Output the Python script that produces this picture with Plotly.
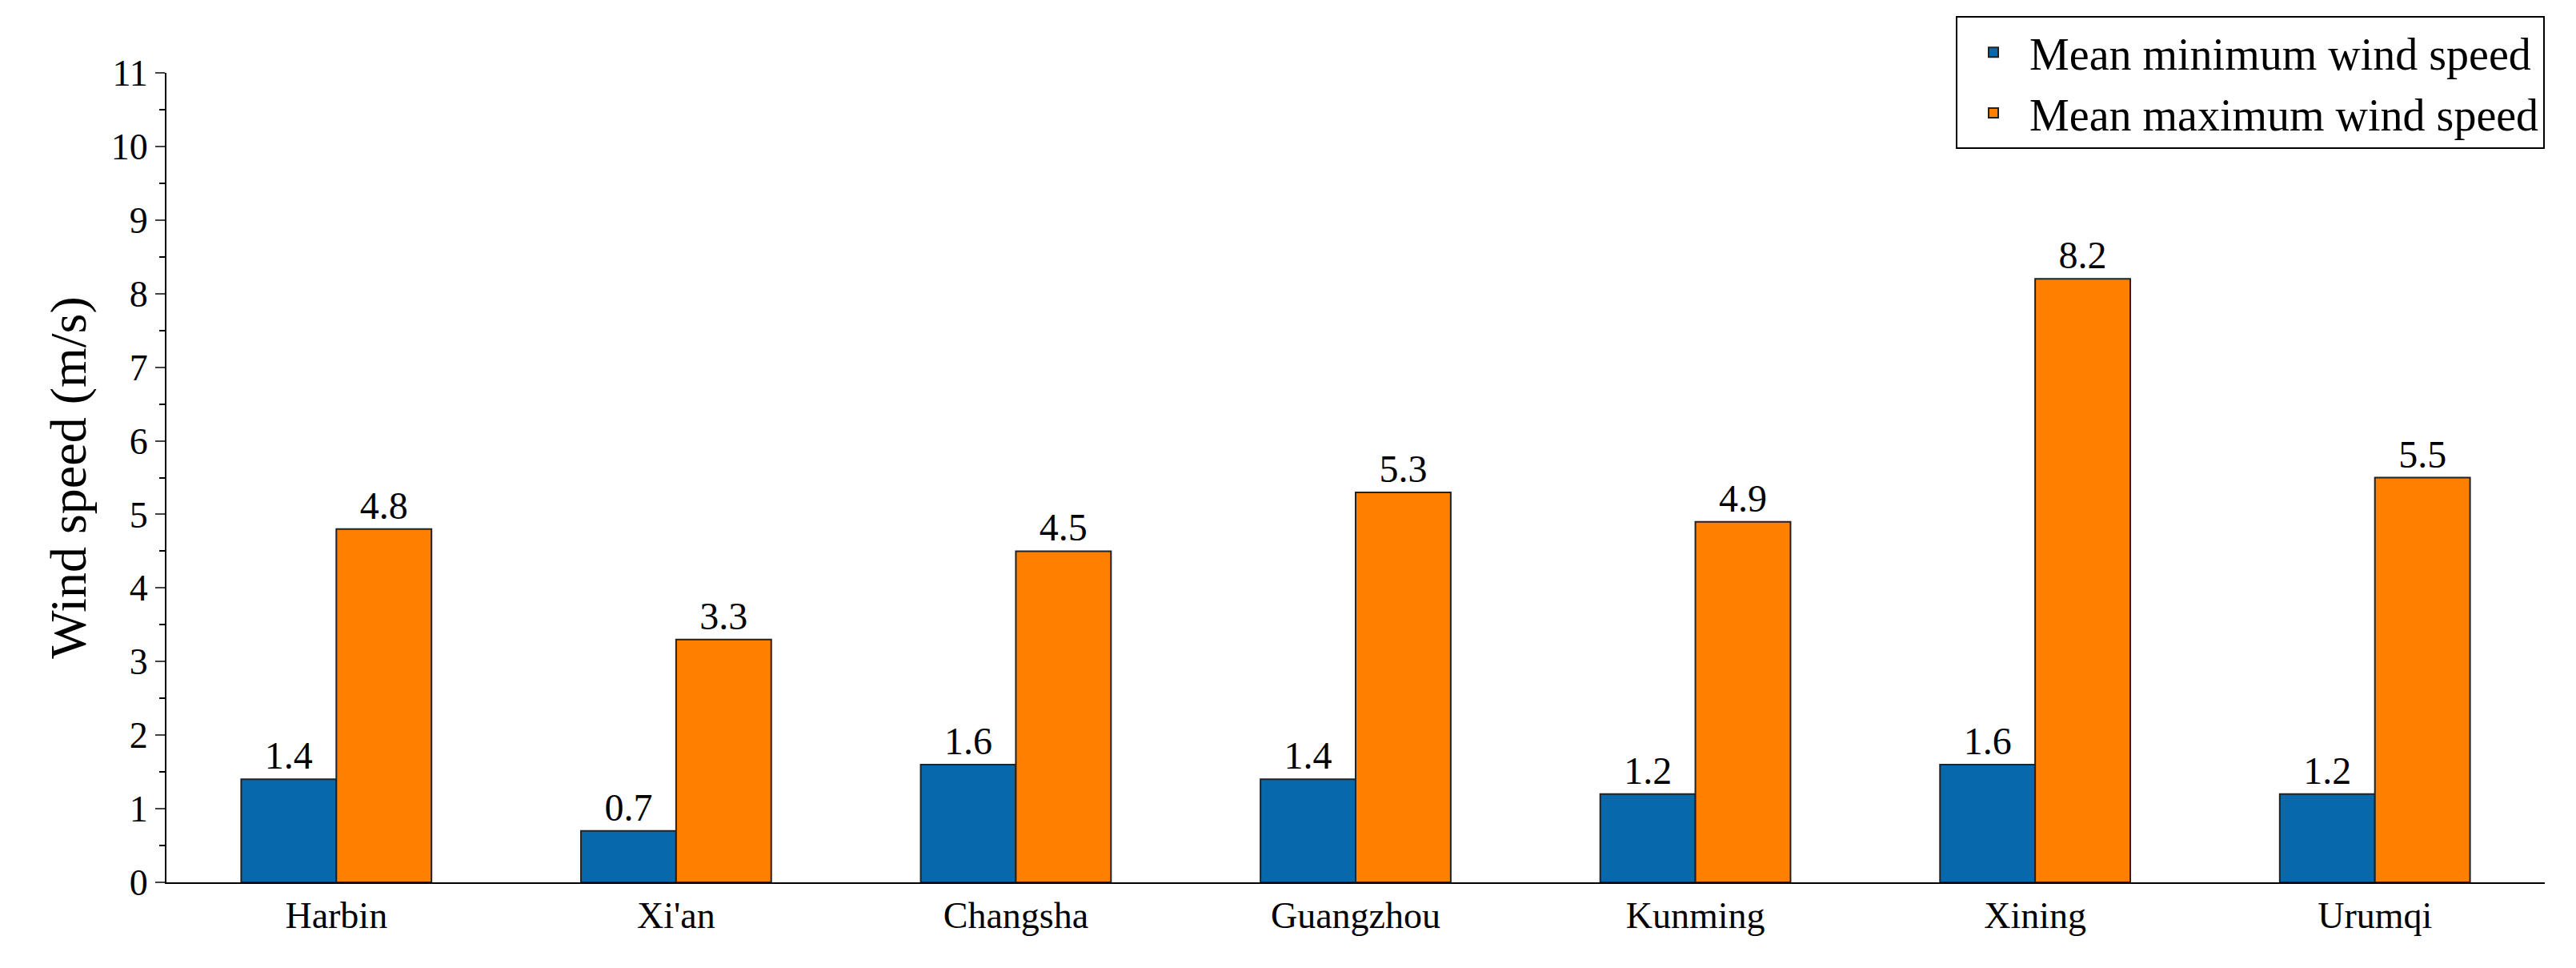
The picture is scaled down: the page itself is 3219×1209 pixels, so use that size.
import plotly.graph_objects as go

cities = ["Harbin", "Xi'an", "Changsha", "Guangzhou", "Kunming", "Xining", "Urumqi"]
min_speed = [1.4, 0.7, 1.6, 1.4, 1.2, 1.6, 1.2]
max_speed = [4.8, 3.3, 4.5, 5.3, 4.9, 8.2, 5.5]

font = "Liberation Serif"
fig = go.Figure()
fig.add_bar(x=cities, y=min_speed, name="Mean minimum wind speed",
            marker=dict(color="#0868ac", line=dict(color="#222", width=2)),
            text=[f"{v:.1f}" for v in min_speed], textposition="outside",
            textfont=dict(size=48, color="black", family=font), cliponaxis=False)
fig.add_bar(x=cities, y=max_speed, name="Mean maximum wind speed",
            marker=dict(color="#ff8000", line=dict(color="#222", width=2)),
            text=[f"{v:.1f}" for v in max_speed], textposition="outside",
            textfont=dict(size=48, color="black", family=font), cliponaxis=False)

fig.update_layout(
    width=3219, height=1209, barmode="group", bargap=0.44, bargroupgap=0,
    plot_bgcolor="white", paper_bgcolor="white",
    font=dict(family=font, size=46, color="black"),
    margin=dict(l=200, r=47, t=72, b=115),
    legend=dict(x=1, y=1.07, xanchor="right", yanchor="top", bordercolor="black",
                borderwidth=2, font=dict(size=56, family=font), bgcolor="white",
                itemwidth=80, tracegroupgap=0),
)
fig.update_yaxes(range=[0, 11], dtick=1, showline=True, linecolor="black", linewidth=2,
                 ticks="outside", ticklen=12, tickwidth=2, showgrid=False, zeroline=False,
                 tickfont=dict(size=46, family=font),
                 title=dict(text="Wind speed (m/s)", font=dict(size=64, family=font), standoff=10),
                 minor=dict(ticks="outside", ticklen=7, dtick=0.5, tickcolor="black", tickwidth=2))
fig.update_xaxes(showline=True, linecolor="black", linewidth=2, ticks="",
                 tickfont=dict(size=46, family=font))
fig.write_html("out.html")
